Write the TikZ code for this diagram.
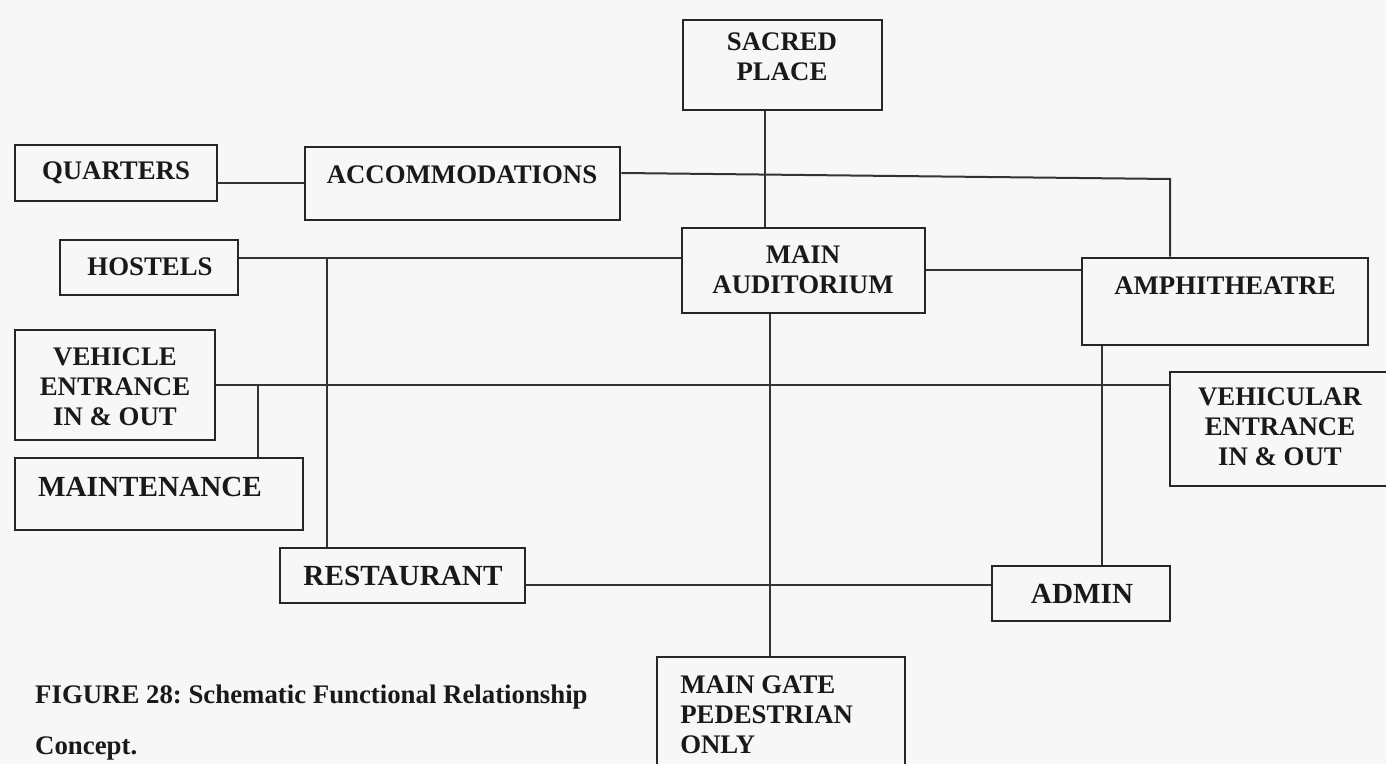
\documentclass[tikz,border=0pt]{standalone}
\usepackage{fontspec}
\setmainfont{Liberation Serif}
\frenchspacing

\tikzset{every picture/.style={line width=0.75pt}}
\tikzset{
  box/.style={draw=black!85, line width=1.3pt, rectangle, inner sep=0pt},
  lbl/.style={font=\fontsize{13.4}{15}\selectfont\bfseries, text=black!90, inner sep=0.75pt, align=center},
  biglbl/.style={lbl, font=\fontsize{14.6}{16}\selectfont\bfseries},
  link/.style={draw=black!80, line width=1pt}
}

\begin{document}
\begin{tikzpicture}[x=0.5pt,y=0.5pt,yscale=-1,xscale=1]
%set diagram to 1386 x 764 with the paper tone
\useasboundingbox[fill=gray!6] (0,0) rectangle (1386,764);
\clip (0,0) rectangle (1386,764);

%Shape: Rectangles
\node[box, minimum width=99.5pt, minimum height=45pt] (sacred) at (782.5,65) {};
\node[box, minimum width=101pt, minimum height=28pt] (quart) at (116,173) {};
\node[box, minimum width=157.5pt, minimum height=36.5pt] (accom) at (462.5,183.5) {};
\node[box, minimum width=89pt, minimum height=27.5pt] (hostel) at (149,267.5) {};
\node[box, minimum width=121.5pt, minimum height=42.5pt] (aud) at (803.5,270.5) {};
\node[box, minimum width=143pt, minimum height=43.5pt] (amphi) at (1225,301.5) {};
\node[box, minimum width=100pt, minimum height=55pt] (vin) at (115,385) {};
\node[box, minimum width=144pt, minimum height=36pt] (maint) at (159,494) {};
\node[box, minimum width=115pt, minimum height=57pt] (vout) at (1285,429) {};
\node[box, minimum width=122.5pt, minimum height=27.5pt] (rest) at (402.5,575.5) {};
\node[box, minimum width=89pt, minimum height=27.5pt] (admin) at (1081,593.5) {};
\node[box, minimum width=124pt, minimum height=66.5pt] (gate) at (781,723.5) {};

%Junction points
\coordinate (j-accom) at (640,173);
\coordinate (j-amphi) at (1170,179);
\coordinate (j-host) at (327,258);
\coordinate (j-sacred) at (765,170);
\coordinate (j-gate) at (770,480);
\coordinate (j-admin) at (1102,480);
\coordinate (j-maint) at (258,385);
\coordinate (j-rest) at (760,585);

%Straight Lines
\draw[link] (quart.east |- accom.west) -- (accom.west);
\draw[link] (accom.east |- j-accom) -- (j-amphi) -- (amphi.north -| j-amphi);
\draw[link] (hostel.east |- j-host) -- (aud.west |- j-host);
\draw[link] (j-host) -- (rest.north -| j-host);
\draw[link] (sacred.south -| j-sacred) -- (aud.north -| j-sacred);
\draw[link] (aud.east) -- (amphi.west |- aud.east);
\draw[link] (aud.south -| j-gate) -- (gate.north -| j-gate);
\draw[link] (amphi.south -| j-admin) -- (admin.north -| j-admin);
\draw[link] (vin.east) -- (vout.west |- vin.east);
\draw[link] (j-maint) -- (maint.north -| j-maint);
\draw[link] (rest.east |- j-rest) -- (admin.west |- j-rest);

% Text Node
\node[lbl] (t-sacred) at (782,57) {SACRED\\PLACE};
% Text Node
\node[lbl] (t-quart) at (116,173) {QUARTERS};
% Text Node
\node[lbl] (t-accom) at (462,175) {ACCOMMODATIONS};
% Text Node
\node[lbl] (t-hostel) at (150,267) {HOSTELS};
% Text Node
\node[lbl] (t-aud) at (803,270) {MAIN\\AUDITORIUM};
% Text Node
\node[lbl] (t-amphi) at (1225,286) {AMPHITHEATRE};
% Text Node
\node[lbl] (t-vin) at (115,387) {VEHICLE\\ENTRANCE\\IN \& OUT};
% Text Node
\node[biglbl] (t-maint) at (150,487) {MAINTENANCE};
% Text Node
\node[lbl] (t-vout) at (1280,427) {VEHICULAR\\ENTRANCE\\IN \& OUT};
% Text Node
\node[biglbl] (t-rest) at (403,576) {RESTAURANT};
% Text Node
\node[biglbl] (t-admin) at (1082,594) {ADMIN};
% Text Node
\node[lbl, align=left, anchor=west] (t-gate) at (678,715) {MAIN GATE\\PEDESTRIAN\\ONLY};
% Text Node
\node[lbl, anchor=west] (cap1) at (33,697) {FIGURE 28: Schematic Functional Relationship};
% Text Node
\node[lbl, anchor=west] (cap2) at (33,748) {Concept.};
\end{tikzpicture}
\end{document}
